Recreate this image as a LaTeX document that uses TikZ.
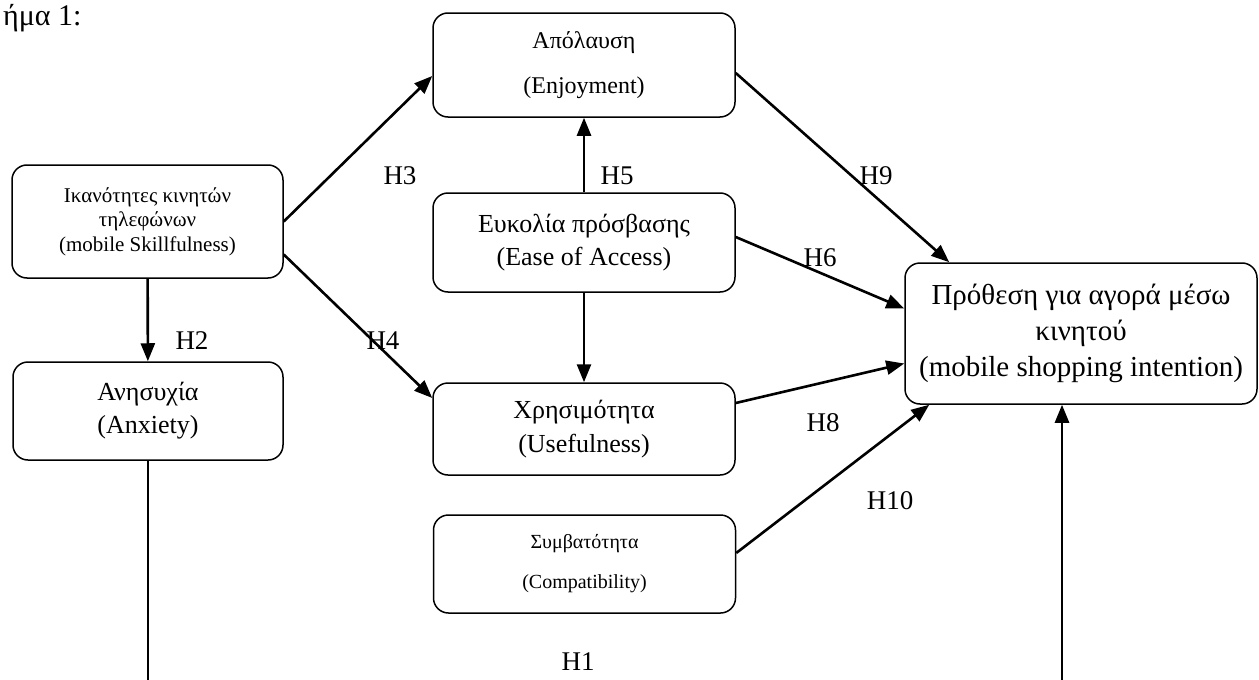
\documentclass[tikz,border=0pt]{standalone}
\usepackage{fontspec}
\setmainfont{Liberation Serif}
\usetikzlibrary{arrows.meta}
\begin{document}
\begin{tikzpicture}[x=1pt,y=-1pt,
	construct/.style={ rectangle, rounded corners=15pt, draw, line width=1.5pt, align=center, inner sep=0pt, minimum width=302pt },
	hyp/.style={ font=\fontsize{27}{30}\selectfont, inner sep=0pt },
	link/.style={ line width=2.6pt, -{Triangle[length=18pt,width=14pt]} }
]
\useasboundingbox (0,0) rectangle (1259,680);

\node at (3,18) (title) [anchor=west, inner sep=0pt, font=\fontsize{30}{32}\selectfont] {ήμα 1:};

\node at (584,65) (J) [construct, minimum height=104pt, font=\fontsize{24}{45}\selectfont] {Απόλαυση\\(Enjoyment)};
\node at (147.5,221.5) (S) [construct, minimum width=271pt, minimum height=113pt, font=\fontsize{21}{24.5}\selectfont] {Ικανότητες κινητών\\τηλεφώνων\\(mobile Skillfulness)};
\node at (148,411) (A) [construct, minimum width=270pt, minimum height=98pt, font=\fontsize{26}{33}\selectfont] {Ανησυχία\\(Anxiety)};
\node at (584,242.5) (E) [construct, minimum height=99pt, font=\fontsize{26}{33}\selectfont] {Ευκολία πρόσβασης\\(Ease of Access)};
\node at (584,429) (U) [construct, minimum height=92pt, font=\fontsize{26}{34}\selectfont] {Χρησιμότητα\\(Usefulness)};
\node at (584.5,564) (C) [construct, minimum height=98pt, font=\fontsize{20}{40}\selectfont] {Συμβατότητα\\(Compatibility)};
\node at (1081,333.5) (I) [construct, minimum width=352pt, minimum height=141pt, font=\fontsize{29}{36}\selectfont] {Πρόθεση για αγορά μέσω\\κινητού\\(mobile shopping intention)};

\coordinate (h1a) at (148,680);
\coordinate (h1b) at (1062,680);

% links out of skillfulness
\draw [link] (S.east) to ([yshift=-11pt]J.west);
\draw [link] ([yshift=-33pt]S.east) to ([yshift=31pt]U.west);
\draw [link] (S) to (A);
% ease of access
\draw [link] (E) to (J);
\draw [link] (E) to (U);
% into intention
\draw [link] ([yshift=-8pt]J.east) to ([xshift=45pt]I.north west);
\draw [link] ([yshift=5.5pt]E.east) to ([yshift=25pt]I.west);
\draw [link] ([yshift=26pt]U.east) to ([yshift=-30pt]I.west);
\draw [link] ([yshift=11pt]C.east) to ([xshift=25pt]I.south west);
\draw [line width=1.3pt] (A) to (h1a);
\draw [link] (h1b) to (h1b |- I.south);

\node at (400,176) (h3) [hyp] {H3};
\node at (383,341) (h4) [hyp] {H4};
\node at (192,341) (h2) [hyp] {H2};
\node at (617,176) (h5) [hyp] {H5};
\node at (876,176) (h9) [hyp] {H9};
\node at (820,258) (h6) [hyp] {H6};
\node at (823,423) (h8) [hyp] {H8};
\node at (890,501) (h10) [hyp] {H10};
\node at (578,662) (h1) [hyp] {H1};

\end{tikzpicture}
\end{document}
